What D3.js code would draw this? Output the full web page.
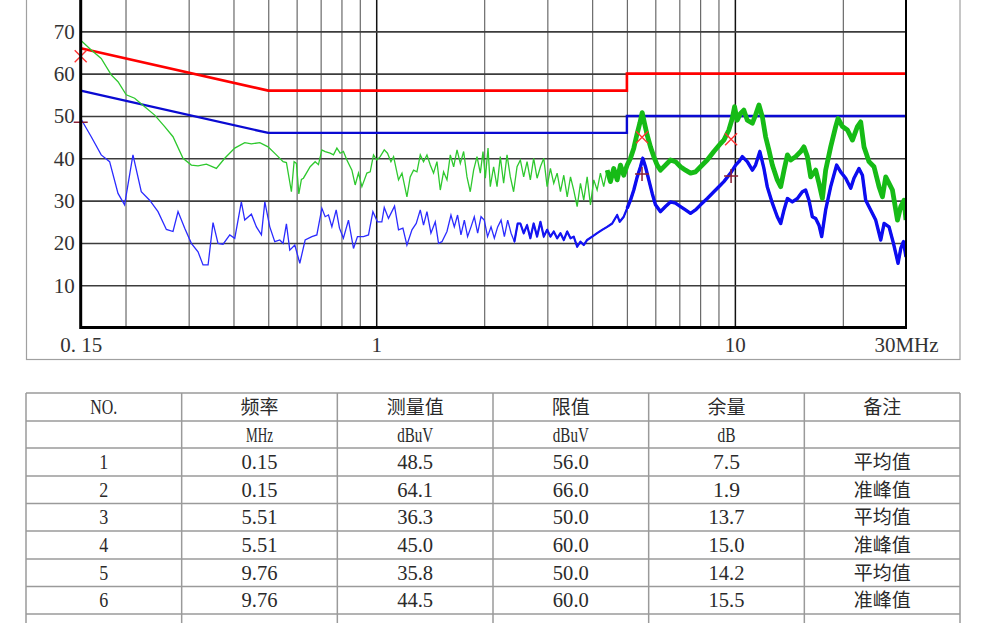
<!DOCTYPE html>
<html><head><meta charset="utf-8">
<script src="https://cdn.jsdelivr.net/npm/d3@7/dist/d3.min.js"></script>
<style>body{margin:0;background:#fff;overflow:hidden}</style>
</head><body><svg id="c" width="1002" height="623"></svg>
<script>
// ---------- data ----------
const qpTrace = [[0.15,67.9],[0.1605,65.6],[0.1711,63.6],[0.1825,59.7],[0.1906,58.1],[0.2009,55.0],[0.2121,54.2],[0.2262,52.2],[0.2412,50.2],[0.2572,47.5],[0.2713,45.1],[0.2893,40.0],[0.3052,38.4],[0.3186,38.2],[0.3361,38.6],[0.3584,37.6],[0.3782,40.0],[0.4033,42.4],[0.4300,43.7],[0.4487,43.4],[0.4737,43.7],[0.4995,42.7],[0.5327,40.4],[0.5500,39.2],[0.5619,39.0],[0.5802,32.1],[0.5903,39.2],[0.5992,38.8],[0.6085,31.6],[0.6187,35.0],[0.6268,35.3],[0.6544,38.0],[0.6758,39.2],[0.6902,38.5],[0.7055,42.0],[0.7206,41.6],[0.7442,41.2],[0.7601,40.8],[0.7769,42.4],[0.7935,41.2],[0.8101,41.6],[0.8284,39.6],[0.8555,37.2],[0.8737,33.7],[0.8924,36.5],[0.9122,33.3],[0.9419,36.5],[0.9622,36.8],[0.9828,40.8],[1.0045,39.6],[1.026,40.4],[1.053,42.0],[1.075,41.2],[1.099,39.2],[1.118,40.4],[1.154,34.9],[1.180,36.5],[1.218,30.9],[1.244,35.6],[1.271,37.2],[1.299,36.8],[1.327,40.8],[1.355,39.2],[1.385,40.8],[1.415,38.4],[1.445,36.5],[1.477,39.2],[1.509,32.5],[1.541,36.8],[1.575,34.9],[1.609,40.8],[1.644,38.0],[1.680,42.0],[1.716,38.8],[1.753,41.6],[1.791,35.6],[1.829,32.1],[1.869,37.2],[1.910,40.4],[1.951,36.5],[1.985,41.6],[2.015,35.3],[2.050,42.4],[2.080,33.3],[2.125,38.0],[2.172,33.3],[2.218,40.4],[2.266,34.1],[2.316,40.8],[2.366,35.6],[2.416,32.1],[2.470,38.0],[2.523,39.6],[2.577,35.6],[2.634,39.2],[2.690,34.9],[2.748,40.0],[2.809,35.3],[2.870,38.0],[2.932,40.0],[2.996,33.3],[3.060,37.6],[3.126,34.1],[3.195,36.5],[3.264,32.1],[3.334,36.0],[3.408,30.9],[3.481,35.6],[3.554,32.5],[3.633,28.6],[3.711,34.1],[3.790,30.1],[3.874,35.6],[3.957,29.0],[4.042,34.9],[4.130,32.5],[4.218,36.5],[4.308,33.3],[4.405,37.2],[4.499,34.5],[4.595,37.6],[4.697,34.9],[4.797,38.4],[4.900,36.0],[5.009,38.4],[5.116,40.0],[5.226,42.4],[5.342,45.9],[5.432,48.3],[5.516,50.8],[5.598,48.3],[5.694,45.5],[5.817,42.7],[5.941,40.4],[6.073,38.4],[6.203,37.2],[6.405,38.4],[6.613,39.6],[6.831,39.2],[7.054,38.0],[7.284,37.2],[7.522,36.5],[7.767,36.8],[8.021,38.0],[8.375,39.6],[8.738,41.6],[9.123,43.5],[9.318,44.3],[9.622,46.7],[9.833,49.4],[9.98,52.2],[10.15,49.0],[10.37,50.6],[10.59,51.4],[10.83,49.0],[11.19,48.3],[11.42,50.2],[11.67,52.6],[11.93,49.8],[12.18,45.1],[12.44,42.0],[12.72,38.4],[13.13,34.9],[13.42,33.3],[13.71,37.2],[14.01,40.8],[14.31,39.6],[14.77,40.4],[15.26,41.6],[15.58,42.7],[15.93,40.4],[16.27,35.6],[16.80,37.2],[17.16,34.1],[17.54,30.5],[17.91,37.2],[18.50,42.7],[19.10,47.5],[19.39,49.4],[19.95,47.5],[20.60,46.7],[21.27,44.3],[21.96,47.5],[22.43,48.6],[22.91,42.7],[23.66,39.2],[24.43,38.0],[25.23,33.3],[25.79,30.9],[26.34,35.6],[26.91,34.1],[27.50,32.5],[28.40,25.4],[29.01,28.6],[29.63,30.1],[30.0,25.4]];

const avTrace = [[0.15,49.4],[0.1605,45.1],[0.1711,40.8],[0.1806,39.2],[0.1906,31.7],[0.1988,29.0],[0.2098,40.8],[0.2213,32.1],[0.2335,30.1],[0.2464,27.4],[0.2600,23.2],[0.2713,22.7],[0.2802,27.4],[0.2925,23.5],[0.3052,19.9],[0.3186,17.9],[0.3290,14.8],[0.3398,14.8],[0.3508,24.8],[0.3622,19.9],[0.3741,19.7],[0.3906,21.9],[0.4033,21.1],[0.4207,29.7],[0.4300,25.4],[0.4487,26.8],[0.4634,23.8],[0.4786,21.9],[0.4892,29.7],[0.5050,23.8],[0.5214,20.3],[0.5385,20.7],[0.5500,19.9],[0.5619,24.5],[0.5742,18.3],[0.5930,19.5],[0.6123,15.2],[0.6337,20.7],[0.6616,21.5],[0.6831,21.9],[0.7055,28.2],[0.7206,26.2],[0.7361,26.6],[0.7523,23.8],[0.7734,27.8],[0.7900,23.5],[0.8101,21.1],[0.8369,25.4],[0.8643,18.7],[0.8867,21.5],[0.9217,21.5],[0.9517,21.9],[0.9790,27.4],[1.008,25.0],[1.037,25.0],[1.053,28.4],[1.082,25.8],[1.125,28.7],[1.154,23.1],[1.187,23.5],[1.218,19.5],[1.258,23.1],[1.293,24.6],[1.327,27.8],[1.355,24.2],[1.385,27.4],[1.421,22.3],[1.461,25.0],[1.492,19.9],[1.525,20.3],[1.575,22.7],[1.616,26.6],[1.651,23.8],[1.686,26.6],[1.723,21.9],[1.761,25.4],[1.798,21.5],[1.838,23.8],[1.877,26.2],[1.918,22.3],[1.960,26.2],[2.001,25.4],[2.044,21.5],[2.090,23.8],[2.135,21.1],[2.181,23.8],[2.229,25.4],[2.277,21.5],[2.326,25.4],[2.377,22.3],[2.428,20.3],[2.480,24.6],[2.523,24.6],[2.577,22.3],[2.634,24.2],[2.690,21.1],[2.748,24.6],[2.809,21.5],[2.870,25.0],[2.932,21.5],[2.996,23.1],[3.060,21.5],[3.126,22.7],[3.195,21.1],[3.264,22.3],[3.334,20.7],[3.408,22.7],[3.481,21.1],[3.554,21.5],[3.633,19.1],[3.711,20.3],[3.790,19.5],[3.874,20.7],[4.000,21.5],[4.130,22.3],[4.265,23.1],[4.405,23.8],[4.549,24.6],[4.697,26.6],[4.775,25.0],[4.900,26.2],[5.009,28.2],[5.116,30.1],[5.226,32.5],[5.342,35.6],[5.456,38.0],[5.537,40.0],[5.633,38.0],[5.754,34.9],[5.882,31.7],[6.007,29.0],[6.203,27.4],[6.405,28.6],[6.613,29.7],[6.831,29.4],[7.054,28.6],[7.284,27.8],[7.522,27.0],[7.767,27.8],[8.021,29.0],[8.375,30.5],[8.738,32.1],[9.123,33.7],[9.318,34.5],[9.727,36.5],[10.05,38.4],[10.26,39.2],[10.49,40.4],[10.83,39.2],[11.19,37.2],[11.42,38.4],[11.74,41.6],[12.05,37.6],[12.31,33.3],[12.72,29.4],[13.13,26.2],[13.42,24.6],[13.71,27.8],[14.01,30.5],[14.46,29.7],[14.94,30.5],[15.42,32.1],[15.75,32.5],[16.09,30.1],[16.44,26.2],[16.80,25.8],[17.16,24.2],[17.46,21.5],[17.91,27.8],[18.50,33.3],[19.22,38.4],[19.72,36.8],[20.37,35.3],[21.04,32.9],[21.48,35.3],[22.18,37.6],[22.68,36.0],[23.16,30.1],[23.91,27.8],[24.70,25.4],[25.51,20.7],[26.06,24.6],[26.91,23.8],[27.68,19.9],[28.51,15.2],[29.01,18.7],[29.51,20.3],[30.0,16.7]];

const qpLimitFreq = [0.15, 0.5, 5, 5, 30];
const qpLimitVal  = [66, 56, 56, 60, 60];
const avLimitFreq = [0.15, 0.5, 5, 5, 30];
const avLimitVal  = [56, 46, 46, 50, 50];

const qpMarks = [[0.15, 64.1], [5.51, 45.0], [9.76, 44.5]];
const avMarks = [[0.15, 48.5], [5.51, 36.3], [9.76, 35.8]];

const yTicks = [10, 20, 30, 40, 50, 60, 70];
const yGrid = [10, 20, 30, 40, 50, 60, 70, 80];
const xGrid = [0.2,0.3,0.4,0.5,0.6,0.7,0.8,0.9,1,2,3,4,5,6,7,8,9,10,20];
const xMajor = [1, 10];
const xTicks = [0.15, 1, 10, 30];
const xTickLabels = ["0. 15", "1", "10", "30MHz"];

const tableHeader = ["NO.", "频率", "测量值", "限值", "余量", "备注"];
const tableUnits  = ["", "MHz", "dBuV", "dBuV", "dB", ""];
const rowNo       = [1, 2, 3, 4, 5, 6];
const rowFreq     = [0.15, 0.15, 5.51, 5.51, 9.76, 9.76];
const rowLevel    = [48.5, 64.1, 36.3, 45.0, 35.8, 44.5];
const rowLimit    = [56.0, 66.0, 50.0, 60.0, 50.0, 60.0];
const rowMargin   = [7.5, 1.9, 13.7, 15.0, 14.2, 15.5];
const rowNote     = ["平均值", "准峰值", "平均值", "准峰值", "平均值", "准峰值"];

// ---------- chart ----------
const svg = d3.select("#c");
const L = 80.7, R = 906, B = 327.6, T = -11;
const x = d3.scaleLog().domain([0.15, 30]).range([L, R]);
const y = d3.scaleLinear().domain([0, 80]).range([B, T]);

svg.append("rect").attr("x", 26.5).attr("y", -20).attr("width", 933.5).attr("height", 379.5)
  .attr("fill", "none").attr("stroke", "#a0a0a0").attr("stroke-width", 1.2);

svg.append("defs").append("clipPath").attr("id", "pc")
  .append("rect").attr("x", L).attr("y", T).attr("width", R - L).attr("height", B - T);

const gx = svg.append("g").attr("transform", `translate(0,${B})`)
  .call(d3.axisBottom(x).tickValues(xGrid).tickSize(-(B - T)).tickFormat(""));
gx.select(".domain").remove();
gx.selectAll("line").attr("stroke", d => xMajor.includes(d) ? "#111" : "#6a6a6a")
  .attr("stroke-width", d => xMajor.includes(d) ? 1.5 : 1.2);

const gy = svg.append("g").attr("transform", `translate(${L},0)`)
  .call(d3.axisLeft(y).tickValues(yGrid).tickSize(-(R - L)).tickFormat(""));
gy.select(".domain").remove();
gy.selectAll("line").attr("stroke", "#3c3c3c").attr("stroke-width", 1.6);

const ly = svg.append("g").attr("transform", `translate(${L},0)`)
  .call(d3.axisLeft(y).tickValues(yTicks).tickSize(0).tickPadding(6).tickFormat(d3.format("d")));
ly.select(".domain").remove();
ly.selectAll("text").attr("font-family", "Liberation Serif").attr("font-size", 21).attr("fill", "#333");

const lx = svg.append("g").attr("transform", `translate(0,${B})`)
  .call(d3.axisBottom(x).tickValues(xTicks).tickSize(0).tickFormat((d, i) => xTickLabels[i]));
lx.select(".domain").remove();
lx.selectAll("text").attr("y", 24).attr("dy", "0").attr("font-family", "Liberation Serif")
  .attr("font-size", 21).attr("fill", "#333");

const lim = (fs, vs) => d3.line().x(i => x(fs[i])).y(i => y(vs[i]))(d3.range(fs.length));
svg.append("path").attr("d", lim(qpLimitFreq, qpLimitVal)).attr("fill", "none")
  .attr("stroke", "#ff0000").attr("stroke-width", 2.6);
svg.append("path").attr("d", lim(avLimitFreq, avLimitVal)).attr("fill", "none")
  .attr("stroke", "#0a0ad2").attr("stroke-width", 2.4);

const line = d3.line().x(d => x(d[0])).y(d => y(d[1]));
const tg = svg.append("g").attr("clip-path", "url(#pc)");
tg.append("path").attr("d", line(avTrace)).attr("fill", "none").attr("stroke", "#2b2bff").attr("stroke-width", 1.3);
tg.append("path").attr("d", line(avTrace.filter(d => d[0] >= 2.4))).attr("fill", "none")
  .attr("stroke", "#1414f2").attr("stroke-width", 2.2).attr("stroke-linejoin", "round");
tg.append("path").attr("d", line(avTrace.filter(d => d[0] >= 5.0))).attr("fill", "none")
  .attr("stroke", "#0c0cf0").attr("stroke-width", 3.4).attr("stroke-linejoin", "round");
tg.append("path").attr("d", line(qpTrace)).attr("fill", "none").attr("stroke", "#2ec82e").attr("stroke-width", 1.3);
tg.append("path").attr("d", line(qpTrace.filter(d => d[0] >= 4.4))).attr("fill", "none")
  .attr("stroke", "#16bb16").attr("stroke-width", 4.8).attr("stroke-linejoin", "round");

const s = 6;
qpMarks.forEach(m => {
  const cx = x(m[0]), cy = y(m[1]);
  svg.append("path").attr("d", `M${cx - s},${cy - s}L${cx + s},${cy + s}M${cx - s},${cy + s}L${cx + s},${cy - s}`)
    .attr("stroke", "#ff3333").attr("stroke-width", 1.4).attr("fill", "none");
});
avMarks.forEach(m => {
  const cx = x(m[0]), cy = y(m[1]);
  svg.append("path").attr("d", `M${cx - s - 1},${cy}L${cx + s + 1},${cy}M${cx},${cy - s - 1}L${cx},${cy + s + 1}`)
    .attr("stroke", "#8b2035").attr("stroke-width", 1.5).attr("fill", "none");
});

svg.append("line").attr("x1", L).attr("x2", L).attr("y1", T - 20).attr("y2", B + 1.5).attr("stroke", "#000").attr("stroke-width", 3);
svg.append("line").attr("x1", L).attr("x2", R + 1).attr("y1", B).attr("y2", B).attr("stroke", "#000").attr("stroke-width", 3);
svg.append("line").attr("x1", R).attr("x2", R).attr("y1", T - 20).attr("y2", B).attr("stroke", "#000").attr("stroke-width", 2);

// ---------- table ----------
const tL = 26, tR = 960, colW = (tR - tL) / 6;
const rowLines = [393, 421, 448, 476, 503.5, 531, 559, 586.5, 614];
const tg2 = svg.append("g");
rowLines.forEach(yy => tg2.append("line").attr("x1", tL).attr("x2", tR).attr("y1", yy).attr("y2", yy)
  .attr("stroke", "#9a9a9a").attr("stroke-width", 1.5));
d3.range(7).forEach(i => tg2.append("line").attr("x1", tL + i * colW).attr("x2", tL + i * colW)
  .attr("y1", 393).attr("y2", 623).attr("stroke", "#9a9a9a").attr("stroke-width", 1.5));

function cell(txt, col, rowIdx, latin) {
  const cx = tL + (col + 0.5) * colW;
  const cy = (rowLines[rowIdx] + rowLines[rowIdx + 1]) / 2 + 7;
  const t = tg2.append("text").attr("x", cx).attr("y", cy)
    .attr("text-anchor", "middle").attr("fill", "#2a2a2a").text(txt);
  if (latin) {
    t.attr("font-family", "Liberation Serif").attr("font-size", 20)
      .attr("textLength", txt.length * 9).attr("lengthAdjust", "spacingAndGlyphs");
  } else {
    t.attr("font-family", "Noto Sans CJK SC").attr("font-size", 19);
  }
}
tableHeader.forEach((h, c) => cell(h, c, 0, c === 0));
tableUnits.forEach((u, c) => { if (u) cell(u, c, 1, true); });
rowNo.forEach((n, r) => {
  cell(String(n), 0, r + 2, true);
  cell(rowFreq[r].toFixed(2), 1, r + 2, true);
  cell(rowLevel[r].toFixed(1), 2, r + 2, true);
  cell(rowLimit[r].toFixed(1), 3, r + 2, true);
  cell(rowMargin[r].toFixed(1), 4, r + 2, true);
  cell(rowNote[r], 5, r + 2, false);
});
</script></body></html>
